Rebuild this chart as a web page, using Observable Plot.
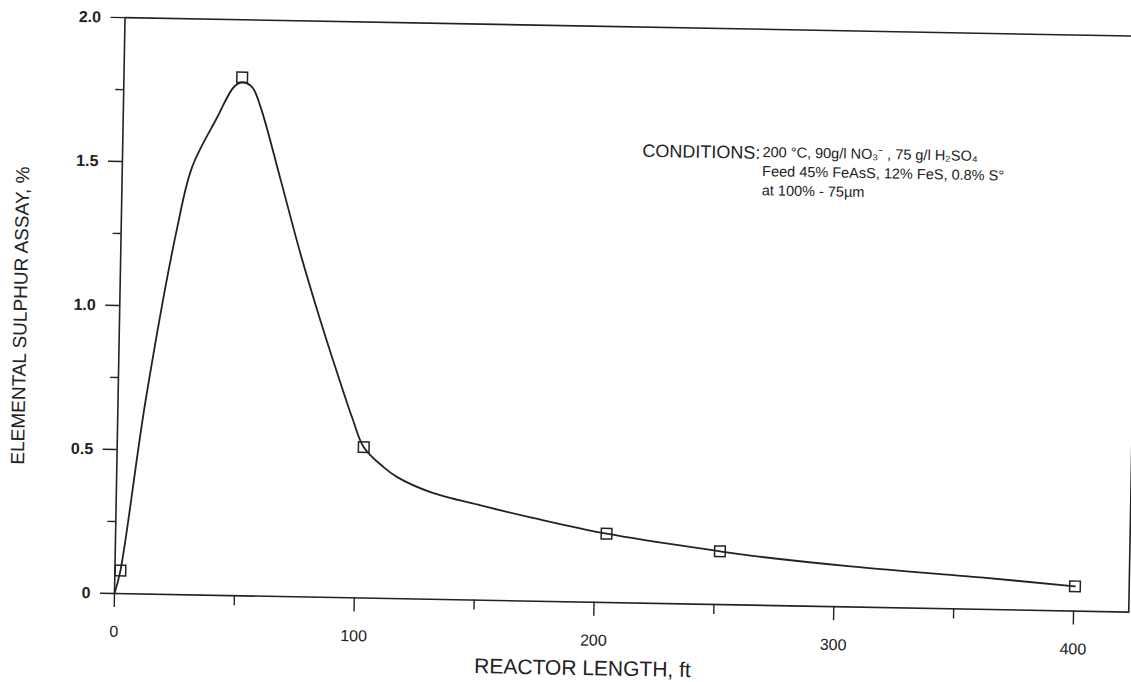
<!DOCTYPE html>
<html><head><meta charset="utf-8">
<script src="https://cdn.jsdelivr.net/npm/d3@7"></script>
<script src="https://cdn.jsdelivr.net/npm/@observablehq/plot@0.6"></script>
<style>
html,body{margin:0;padding:0;background:#fff;overflow:hidden;}
#chart{width:1131px;height:682px;position:relative;overflow:hidden;}
</style></head><body><div id="chart"></div>
<script>
// Sample points (squares)
const sampleLength = [2.3, 49.3, 102.8, 204.7, 252.1, 400.4];
const sampleAssay  = [0.080, 1.800, 0.524, 0.239, 0.185, 0.086];
// Hand-drawn smooth curve
const curveLength = [0, 2.3, 11.5, 23.4, 29.1, 39.2, 45.9, 49.3, 53.5, 57.2, 66.0, 75.0, 84.0, 92.0, 98.0, 102.8, 111.2, 117.0, 131.0, 152.0, 172.9, 204.7, 252.1, 264.9, 306.7, 361.0, 400.4];
const curveAssay  = [0.0, 0.080, 0.672, 1.276, 1.485, 1.660, 1.766, 1.783, 1.767, 1.698, 1.450, 1.190, 0.955, 0.760, 0.620, 0.524, 0.456, 0.422, 0.372, 0.329, 0.291, 0.239, 0.185, 0.172, 0.141, 0.111, 0.086];
const xMajorTicks = [0, 100, 200, 300, 400];
const xMinorTicks = [50, 150, 250, 350];
const yMajorTicks = [0, 0.5, 1.0, 1.5, 2.0];
const yMinorTicks = [0.25, 0.75, 1.25, 1.75];
const conditionsHead = "CONDITIONS:";
const conditionsLines = ["200 °C, 90g/l NO₃⁻ , 75 g/l H₂SO₄", "Feed 45% FeAsS, 12% FeS, 0.8% S°", "at 100% - 75µm"];
const xTitle = "REACTOR LENGTH, ft";
const yTitle = "ELEMENTAL SULPHUR ASSAY, %";

const samples = sampleLength.map((x, i) => ({x, y: sampleAssay[i]}));
const curve = curveLength.map((x, i) => ({x, y: curveAssay[i]}));
const ink = "#222";

const chart = Plot.plot({
  width: 1131, height: 682,
  marginLeft: 114, marginRight: 2.6, marginTop: 17, marginBottom: 89,
  style: {fontFamily: "'Liberation Sans', Arial, sans-serif", background: "#fff", color: ink, overflow: "visible"},
  x: {domain: [0, 423]},
  y: {domain: [0, 2]},
  marks: [
    Plot.frame({stroke: ink, strokeWidth: 1.6}),
    Plot.axisY(yMinorTicks, {tickSize: 8, tickFormat: () => "", label: null, strokeWidth: 1.4}),
    Plot.axisY(yMajorTicks, {tickSize: 14, tickPadding: 10, tickFormat: d => d === 0 ? "0" : d.toFixed(1), fontSize: 16, fontWeight: "bold", label: null, strokeWidth: 1.4}),
    Plot.axisX(xMinorTicks, {tickSize: 10, tickFormat: () => "", label: null, strokeWidth: 1.4}),
    Plot.axisX(xMajorTicks, {tickSize: 14, tickPadding: 18, tickFormat: d => String(d), fontSize: 16, label: null, strokeWidth: 1.4}),
    Plot.line(curve, {x: "x", y: "y", curve: "catmull-rom", stroke: ink, strokeWidth: 1.8}),
    Plot.dot(samples, {x: "x", y: "y", symbol: "square", r: 6, stroke: ink, strokeWidth: 1.5, fill: "none"}),
    Plot.text([conditionsHead], {x: 216.7, y: 1.570, text: d => d, textAnchor: "start", fontSize: 18, fill: ink}),
    Plot.text([conditionsLines.join("\n")], {x: 266.8, y: 1.604, text: d => d, textAnchor: "start", lineAnchor: "top", lineHeight: 1.32, fontSize: 14.5, fill: ink}),
    Plot.text([xTitle], {x: 195.7, y: -0.23, text: d => d, fontSize: 21, fill: ink}),
    Plot.text([yTitle], {x: -41.3, y: 0.959, rotate: -90, text: d => d, fontSize: 19, fill: ink})
  ]
});
chart.style.transform = "rotate(1.05deg)";
chart.style.transformOrigin = "114px 593px";
document.getElementById("chart").appendChild(chart);
</script>
</body></html>
